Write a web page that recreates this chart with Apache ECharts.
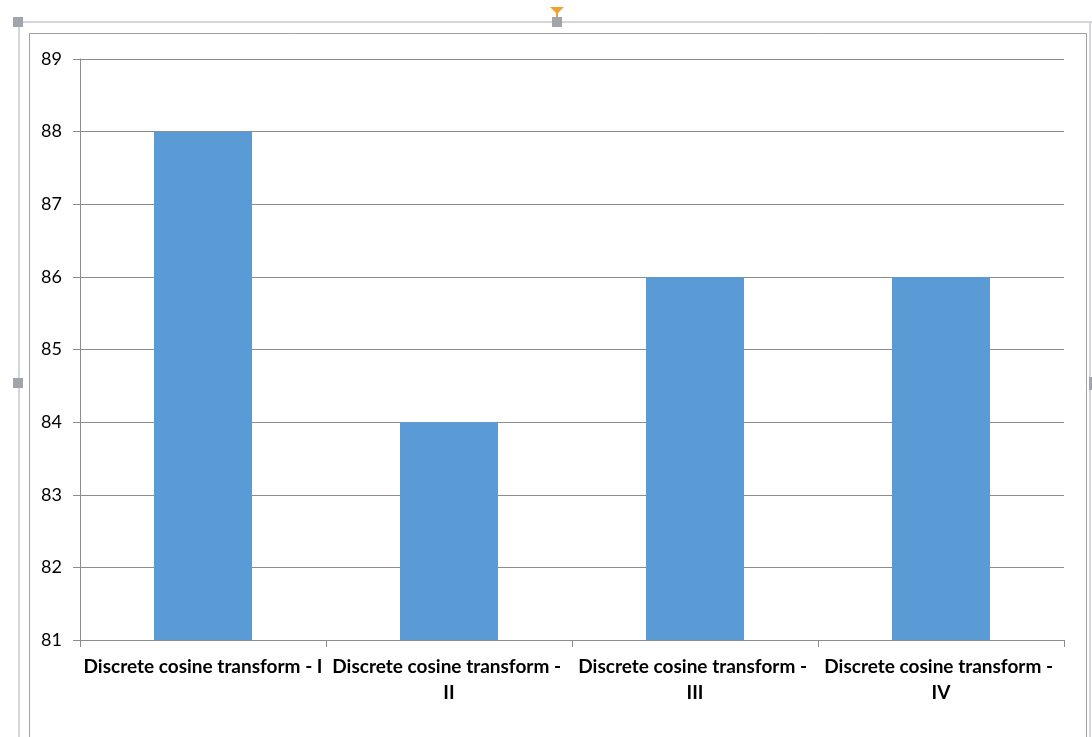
<!DOCTYPE html>
<html>
<head>
<meta charset="utf-8">
<style>
  html, body { margin: 0; padding: 0; background: #fff; }
  #chart { width: 1092px; height: 737px; }
</style>
<script src="https://cdn.jsdelivr.net/npm/echarts@6/dist/echarts.min.js"></script>
</head>
<body>
<div id="chart"></div>
<script>
// Accuracy of each DCT variant
const categories = [
  'Discrete cosine transform - I',
  'Discrete cosine transform - II',
  'Discrete cosine transform - III',
  'Discrete cosine transform - IV'
];
const values = [88, 84, 86, 86];
const yTicks = { min: 81, max: 89, step: 1 };

const chart = echarts.init(document.getElementById('chart'), null, { renderer: 'canvas' });

const handle = (x, y) => ({
  type: 'rect', silent: true,
  shape: { x: x - 5, y: y - 5, width: 10, height: 10 },
  style: { fill: '#a2a4ab' }
});

chart.setOption({
  animation: false,
  backgroundColor: '#fff',
  grid: { left: 80, right: 28, top: 59, bottom: 97, containLabel: false },
  xAxis: {
    type: 'category',
    data: categories,
    axisLine: { show: true, lineStyle: { color: '#8c8c8c', width: 1 } },
    axisTick: { show: true, length: 7, lineStyle: { color: '#8c8c8c' } },
    axisLabel: {
      interval: 0,
      margin: 14,
      color: '#000',
      fontFamily: 'Lato',
      fontWeight: 'bold',
      fontSize: 19,
      lineHeight: 26,
      width: 242,
      overflow: 'break',
      align: 'center'
    },
    splitLine: { show: false }
  },
  yAxis: {
    type: 'value',
    min: yTicks.min,
    max: yTicks.max,
    interval: yTicks.step,
    axisLine: { show: true, lineStyle: { color: '#8c8c8c', width: 1 } },
    axisTick: { show: true, inside: false, length: 7, lineStyle: { color: '#8c8c8c' } },
    axisLabel: {
      margin: 18,
      color: '#000',
      fontFamily: 'Lato',
      fontSize: 18
    },
    splitLine: { show: true, lineStyle: { color: '#8c8c8c', width: 1 } }
  },
  series: [{
    type: 'bar',
    data: values,
    barWidth: 98,
    itemStyle: { color: '#5b9bd5' }
  }],
  graphic: [
    // selection frame
    { type: 'line', silent: true, shape: { x1: 18, y1: 22, x2: 1092, y2: 22 }, style: { stroke: '#d6d7db', lineWidth: 2 } },
    { type: 'line', silent: true, shape: { x1: 19, y1: 22, x2: 19, y2: 737 }, style: { stroke: '#d6d7db', lineWidth: 2 } },
    { type: 'line', silent: true, shape: { x1: 1090, y1: 22, x2: 1090, y2: 737 }, style: { stroke: '#d6d7db', lineWidth: 2 } },
    // chart area border
    { type: 'rect', silent: true, shape: { x: 29.5, y: 33.5, width: 1057, height: 720 }, style: { fill: null, stroke: '#a0a0a0', lineWidth: 1 } },
    handle(18, 22), handle(557, 22), handle(18, 383),
    { type: 'rect', silent: true, shape: { x: 1089, y: 377, width: 3, height: 13 }, style: { fill: '#a2a4ab' } },
    // rotate marker
    { type: 'polygon', silent: true, shape: { points: [[550, 7], [564, 7], [557, 14]] }, style: { fill: '#f0a030' } },
    { type: 'line', silent: true, shape: { x1: 557, y1: 12, x2: 557, y2: 17 }, style: { stroke: '#f0a030', lineWidth: 2 } }
  ]
});
</script>
</body>
</html>
